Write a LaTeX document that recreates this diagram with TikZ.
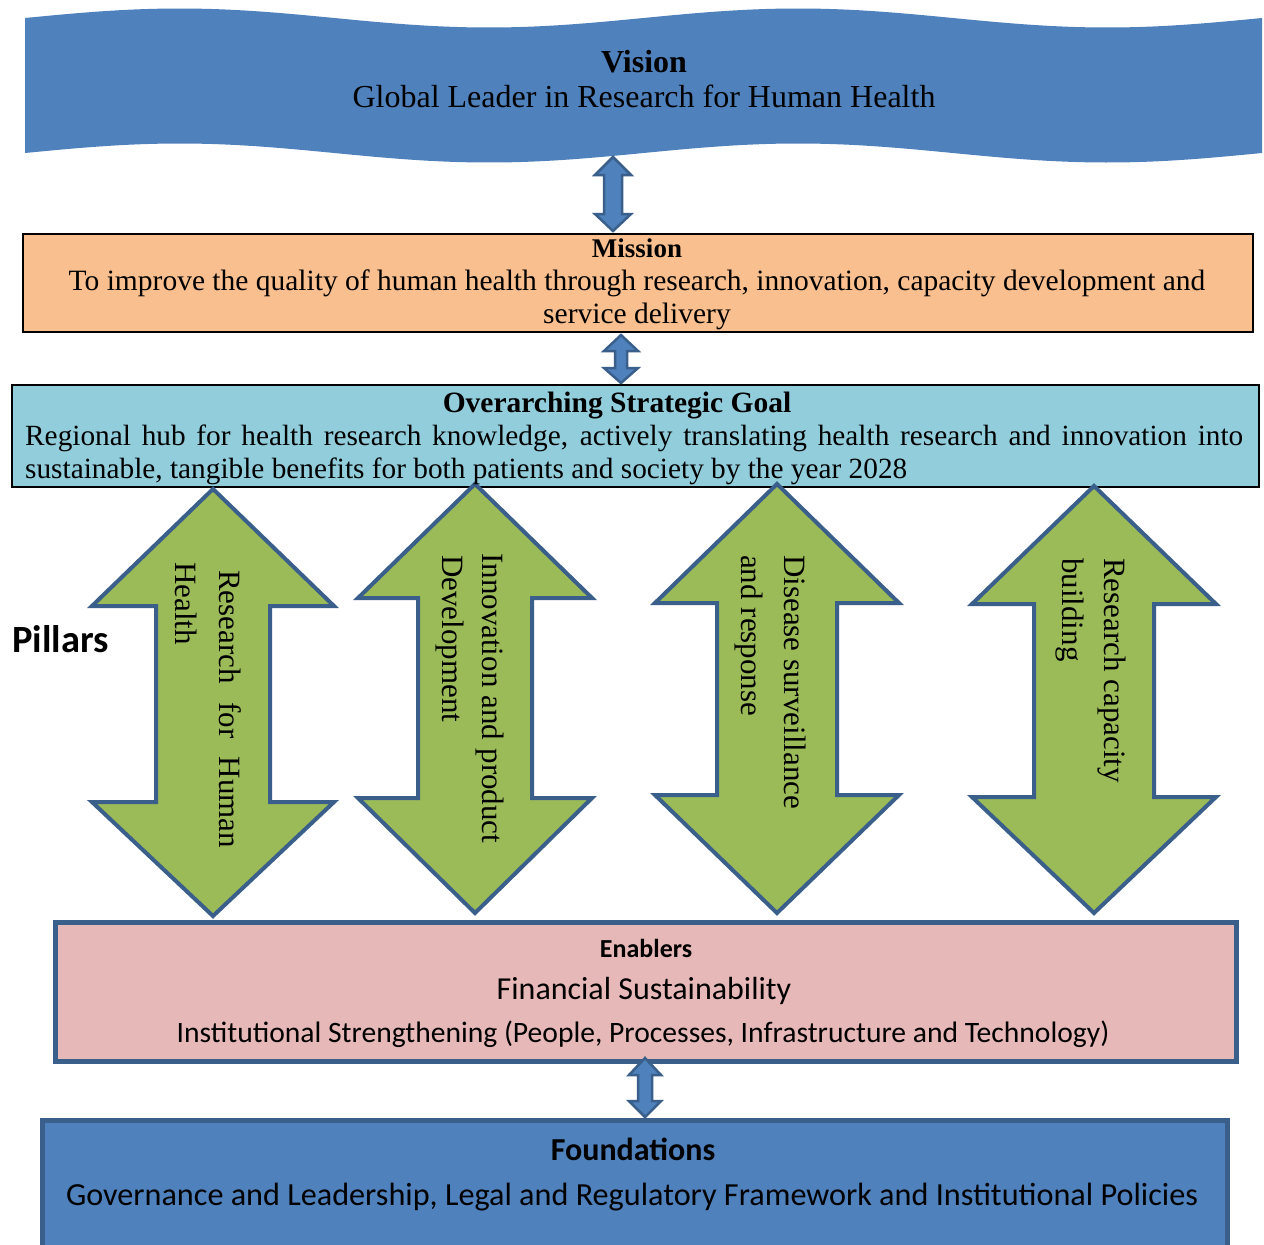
\documentclass[tikz,border=0pt]{standalone}
\usepackage{fontspec}
\setmainfont{Liberation Serif}
\newfontfamily\calfont{Carlito}
\definecolor{wblue}{HTML}{4F81BD}
\definecolor{dblue}{HTML}{3A5F8B}
\definecolor{pgreen}{HTML}{9BBB59}
\definecolor{morange}{HTML}{F9BF8F}
\definecolor{gblue}{HTML}{92CDDC}
\definecolor{epink}{HTML}{E6B8B7}
\newcommand{\dblarrow}[8]{%
  \path[#1] (#2,#3) -- ({#2+#7},#4) -- ({#2+#8},#4) -- ({#2+#8},#5) -- ({#2+#7},#5)
   -- (#2,#6) -- ({#2-#7},#5) -- ({#2-#8},#5) -- ({#2-#8},#4) -- ({#2-#7},#4) -- cycle;}
\tikzset{
  pillarstyle/.style={fill=pgreen, draw=dblue, line width=4pt, miter limit=10},
  linkstyle/.style={fill=wblue, draw=dblue, line width=2.5pt},
  txt/.style={anchor=base, inner sep=0pt},
  ptxt/.style={anchor=base west, inner sep=0pt, rotate=-90, font=\fontsize{31}{36}\selectfont},
  sq/.style={rectangle, anchor=north west, inner sep=0pt}
}
\begin{document}
\begin{tikzpicture}[x=1pt,y=-1pt]
\useasboundingbox[fill=white] (0,0) rectangle (1264,1245);
% vision banner
\fill[wblue] (25,18) -- plot[smooth, samples=80, domain=25:1262] (\x,{18-9.5*sin(((\x-25)/618.5)*360)})
  -- (1262,153) -- plot[smooth, samples=80, domain=1262:25] (\x,{153-9.5*sin(((\x-25)/618.5)*360)}) -- cycle;
% boxes
\node[sq, fill=morange, draw=black, line width=2.4pt, minimum width=1230pt, minimum height=98pt] (mission) at (22,233) {};
\node[sq, fill=gblue, draw=black, line width=2.4pt, minimum width=1247pt, minimum height=102pt] (goal) at (11,384) {};
\node[sq, fill=epink, draw=dblue, line width=4.5pt, minimum width=1181pt, minimum height=139pt] (enablers) at (53,920) {};
\node[sq, fill=wblue, draw=dblue, line width=4.5pt, minimum width=1185pt, minimum height=150pt] (found) at (40,1118) {};
% links
\dblarrow{linkstyle}{613}{157}{175}{214}{231}{18}{9}
\dblarrow{linkstyle}{621}{335}{351}{368}{383}{17}{6}
\dblarrow{linkstyle}{645}{1058}{1075}{1101}{1117}{16}{7}
% pillars
\dblarrow{pillarstyle}{213}{489}{606}{802}{916}{121}{57}
\dblarrow{pillarstyle}{475}{484}{598}{798}{913}{117}{57}
\dblarrow{pillarstyle}{777}{484}{603}{795}{913}{122}{60}
\dblarrow{pillarstyle}{1094}{486}{604}{797}{913}{122}{60}
% texts
\node[txt, font=\fontsize{32}{38}\selectfont\bfseries] (vt) at (644,72) {Vision};
\node[txt, font=\fontsize{32}{38}\selectfont] (vs) at (644,107) {Global Leader in Research for Human Health};
\node[txt, font=\fontsize{27}{33}\selectfont\bfseries] (mt) at (637,257) {Mission};
\node[txt, font=\fontsize{29.5}{33}\selectfont] (m1) at (637,290) {To improve the quality of human health through research, innovation, capacity development and};
\node[txt, font=\fontsize{29.5}{33}\selectfont] (m2) at (637,323) {service delivery};
\node[txt, font=\fontsize{29.5}{33}\selectfont\bfseries] (gt) at (617,412) {Overarching Strategic Goal};
\node[txt, anchor=base west, font=\fontsize{29.3}{33}\selectfont] (g1) at (25,445) {\makebox[1218pt][s]{Regional hub for health research knowledge, actively translating health research and innovation into}};
\node[txt, anchor=base west, font=\fontsize{29.3}{33}\selectfont] (g2) at (25,478) {sustainable, tangible benefits for both patients and society by the year 2028};
\node[txt, anchor=base west, font=\calfont\fontsize{38.5}{42}\selectfont\bfseries] (pl) at (12,652) {Pillars};
% pillar texts
\node[ptxt] (p1a) at (219,570) {\makebox[278pt][s]{Research for Human}};
\node[ptxt] (p1b) at (175,562) {Health};
\node[ptxt] (p2a) at (482,553) {\makebox[290pt][s]{Innovation and product}};
\node[ptxt] (p2b) at (442,555) {Development};
\node[ptxt] (p3a) at (784,555) {Disease surveillance};
\node[ptxt] (p3b) at (741,555) {and response};
\node[ptxt] (p4a) at (1104,558) {Research capacity};
\node[ptxt] (p4b) at (1062,558) {building};
% enablers & foundations
\node[txt, font=\calfont\fontsize{26}{30}\selectfont\bfseries] (et) at (646,957) {Enablers};
\node[txt, font=\calfont\fontsize{32}{36}\selectfont] (e1) at (644,999) {Financial Sustainability};
\node[txt, font=\calfont\fontsize{29.6}{32}\selectfont] (e2) at (643,1042) {Institutional Strengthening (People, Processes, Infrastructure and Technology)};
\node[txt, font=\calfont\fontsize{32}{36}\selectfont\bfseries] (ft) at (633,1160) {Foundations};
\node[txt, font=\calfont\fontsize{32.2}{36}\selectfont] (f1) at (632,1205) {Governance and Leadership, Legal and Regulatory Framework and Institutional Policies};
\end{tikzpicture}
\end{document}
